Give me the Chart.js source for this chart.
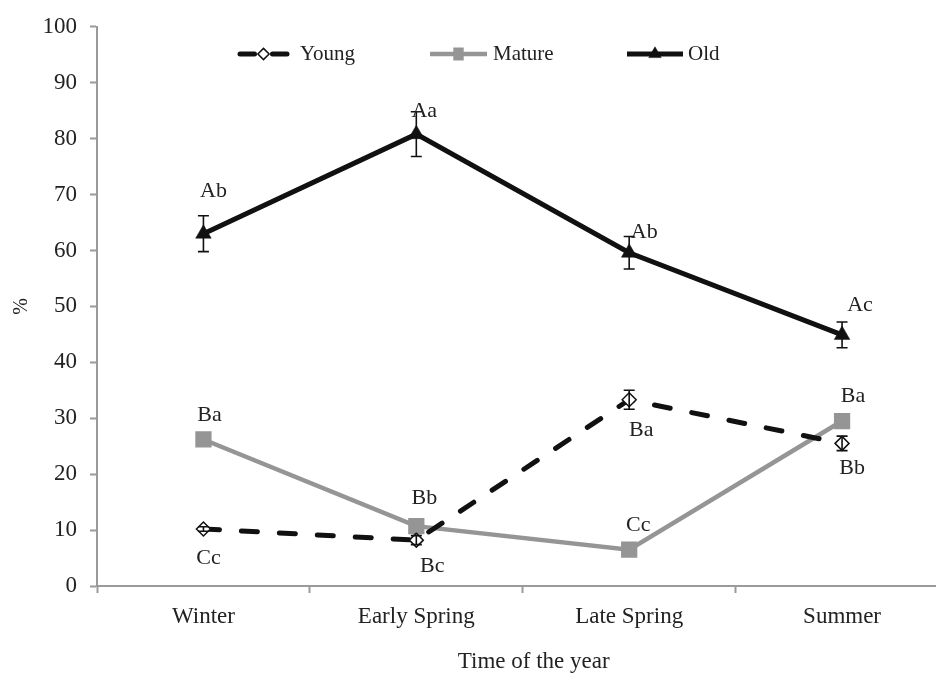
<!DOCTYPE html>
<html><head><meta charset="utf-8">
<script src="https://cdn.jsdelivr.net/npm/chart.js@4.4.1/dist/chart.umd.min.js"></script>
<style>html,body{margin:0;padding:0;overflow:hidden;background:#fff;width:936px;height:674px}</style>
</head><body>
<div style="width:960px;height:674px"><canvas id="c" width="960" height="674" style="display:block;width:960px;height:674px"></canvas></div>
<script>
// ---- data ----
const categories = ['Winter', 'Early Spring', 'Late Spring', 'Summer'];
const seriesNames = ['Young', 'Mature', 'Old'];
const youngValues = [10.2, 8.2, 33.3, 25.5];
const youngErrors = [0.4, 0.8, 1.7, 1.3];
const matureValues = [26.2, 10.7, 6.5, 29.5];
const matureErrors = [1.0, 1.0, 1.0, 1.0];
const oldValues = [63.0, 80.8, 59.6, 44.9];
const oldErrors = [3.2, 4.0, 2.9, 2.3];
const youngLetters = ['Cc', 'Bc', 'Ba', 'Bb'];
const matureLetters = ['Ba', 'Bb', 'Cc', 'Ba'];
const oldLetters = ['Ab', 'Aa', 'Ab', 'Ac'];
const yTicks = [0, 10, 20, 30, 40, 50, 60, 70, 80, 90, 100];
const xTitle = 'Time of the year';

// ---- styles ----
const serif = "'Liberation Serif', 'Times New Roman', serif";
const ink = '#222222';
const axisGray = '#9a9a9a';
const matureGray = '#959595';
// label offsets (px) from the point, per dataset
const letterOffsets = [
  [[5, 29], [16, 26], [12, 30], [10, 25]],
  [[6, -24], [8, -28], [9, -24], [11, -25]],
  [[10, -42], [8, -23], [15, -20], [18, -30]]
];
const legendLayout = [
  {x0: 238, x1: 289, tx: 300},
  {x0: 430, x1: 487, tx: 493},
  {x0: 627, x1: 683, tx: 688}
];
const legendY = 54;

const errorsByDataset = [youngErrors, matureErrors, oldErrors];
const lettersByDataset = [youngLetters, matureLetters, oldLetters];

const errorBars = {
  id: 'errorBars',
  afterDatasetsDraw(chart) {
    const ctx = chart.ctx, ys = chart.scales.y;
    chart.data.datasets.forEach((ds, i) => {
      const meta = chart.getDatasetMeta(i);
      const errs = errorsByDataset[i];
      ctx.save();
      ctx.strokeStyle = ds.errorColor;
      ctx.lineWidth = 1.6;
      meta.data.forEach((pt, j) => {
        const v = ds.data[j], e = errs[j];
        const yt = ys.getPixelForValue(v + e), yb = ys.getPixelForValue(v - e);
        const x = pt.x;
        ctx.beginPath();
        ctx.moveTo(x, yt); ctx.lineTo(x, yb);
        ctx.moveTo(x - 5.5, yt); ctx.lineTo(x + 5.5, yt);
        ctx.moveTo(x - 5.5, yb); ctx.lineTo(x + 5.5, yb);
        ctx.stroke();
      });
      ctx.restore();
    });
  }
};

const letterLabels = {
  id: 'letterLabels',
  afterDatasetsDraw(chart) {
    const ctx = chart.ctx;
    ctx.save();
    ctx.font = '22px ' + serif;
    ctx.fillStyle = ink;
    ctx.textAlign = 'center';
    ctx.textBaseline = 'middle';
    chart.data.datasets.forEach((ds, i) => {
      const meta = chart.getDatasetMeta(i);
      meta.data.forEach((pt, j) => {
        const o = letterOffsets[i][j];
        ctx.fillText(lettersByDataset[i][j], pt.x + o[0], pt.y + o[1]);
      });
    });
    ctx.restore();
  }
};

const axisTitle = {
  id: 'axisTitle',
  afterDraw(chart) {
    const ctx = chart.ctx, a = chart.chartArea;
    ctx.save();
    ctx.font = '23px ' + serif;
    ctx.fillStyle = ink;
    ctx.textAlign = 'center';
    ctx.textBaseline = 'middle';
    ctx.fillText(xTitle, (a.left + a.right) / 2 + 11, a.bottom + 76);
    ctx.restore();
  }
};

function drawMarker(ctx, style, x, y, r, fill, stroke, bw) {
  ctx.save();
  ctx.beginPath();
  if (style === 'rectRot') {
    ctx.moveTo(x, y - r); ctx.lineTo(x + r, y); ctx.lineTo(x, y + r); ctx.lineTo(x - r, y); ctx.closePath();
  } else if (style === 'rect') {
    const s = r * Math.SQRT1_2;
    ctx.rect(x - s * 0.8, y - s, 1.6 * s, 2 * s);
  } else if (style === 'triangle') {
    ctx.moveTo(x, y - r);
    ctx.lineTo(x + r * Math.sin(2 * Math.PI / 3), y - r * Math.cos(2 * Math.PI / 3));
    ctx.lineTo(x + r * Math.sin(4 * Math.PI / 3), y - r * Math.cos(4 * Math.PI / 3));
    ctx.closePath();
  }
  ctx.fillStyle = fill; ctx.fill();
  if (bw > 0) { ctx.lineWidth = bw; ctx.strokeStyle = stroke; ctx.stroke(); }
  ctx.restore();
}

const customLegend = {
  id: 'customLegend',
  afterDraw(chart) {
    const ctx = chart.ctx;
    chart.data.datasets.forEach((ds, i) => {
      const L = legendLayout[i];
      const xm = (L.x0 + L.x1) / 2;
      ctx.save();
      ctx.strokeStyle = ds.borderColor;
      ctx.lineWidth = ds.borderWidth;
      ctx.lineCap = 'round';
      ctx.beginPath();
      if (ds.borderDash && ds.borderDash.length) {
        ctx.moveTo(L.x0 + 2, legendY); ctx.lineTo(xm - 9, legendY);
        ctx.moveTo(xm + 9, legendY); ctx.lineTo(L.x1 - 2, legendY);
      } else {
        ctx.lineCap = 'butt';
        ctx.moveTo(L.x0, legendY); ctx.lineTo(L.x1, legendY);
      }
      ctx.stroke();
      ctx.restore();
      drawMarker(ctx, ds.pointStyle, xm, legendY, ds.pointRadius * 0.8, ds.pointBackgroundColor, ds.pointBorderColor, ds.pointBorderWidth);
      ctx.save();
      ctx.font = '21px ' + serif;
      ctx.fillStyle = ink;
      ctx.textAlign = 'left';
      ctx.textBaseline = 'middle';
      ctx.fillText(seriesNames[i], L.tx, legendY);
      ctx.restore();
    });
  }
};

new Chart(document.getElementById('c'), {
  type: 'line',
  data: {
    labels: categories,
    datasets: [
      {label: seriesNames[0], data: youngValues, borderColor: '#111111', borderWidth: 5, borderDash: [16, 22],
       borderCapStyle: 'round', pointStyle: 'rectRot', pointRadius: 7, pointBackgroundColor: '#ffffff',
       pointBorderColor: '#111111', pointBorderWidth: 1.5, tension: 0, fill: false, errorColor: '#111111'},
      {label: seriesNames[1], data: matureValues, borderColor: matureGray, borderWidth: 4.5,
       pointStyle: 'rect', pointRadius: 11.5, pointBackgroundColor: matureGray, pointBorderColor: matureGray,
       pointBorderWidth: 0, tension: 0, fill: false, errorColor: matureGray},
      {label: seriesNames[2], data: oldValues, borderColor: '#111111', borderWidth: 5,
       pointStyle: 'triangle', pointRadius: 9, pointBackgroundColor: '#111111', pointBorderColor: '#111111',
       pointBorderWidth: 0.5, tension: 0, fill: false, errorColor: '#111111'}
    ]
  },
  options: {
    responsive: false,
    animation: false,
    devicePixelRatio: 1,
    layout: {padding: {top: 26, right: 9, bottom: 0, left: 0}},
    plugins: {legend: {display: false}, tooltip: {enabled: false}},
    scales: {
      x: {
        offset: true,
        grid: {offset: true, drawOnChartArea: false, drawTicks: true, tickLength: 7, tickColor: axisGray, tickWidth: 2},
        border: {color: axisGray, width: 2},
        ticks: {font: {family: serif, size: 23}, color: ink, padding: 10, maxRotation: 0, autoSkip: false},
        title: {display: false},
        afterFit(s) { s.height = 88; }
      },
      y: {
        min: 0, max: 100,
        afterBuildTicks(s) { s.ticks = yTicks.map(v => ({value: v})); },
        ticks: {font: {family: serif, size: 23}, color: ink, padding: 13},
        grid: {drawOnChartArea: false, drawTicks: true, tickLength: 7, tickColor: axisGray, tickWidth: 2},
        border: {color: axisGray, width: 2},
        title: {display: true, text: '%', font: {family: serif, size: 20}, color: ink, padding: {top: 10, bottom: 0}},
        afterFit(s) { s.width = 97; }
      }
    }
  },
  plugins: [errorBars, letterLabels, customLegend, axisTitle]
});
</script>
</body></html>
